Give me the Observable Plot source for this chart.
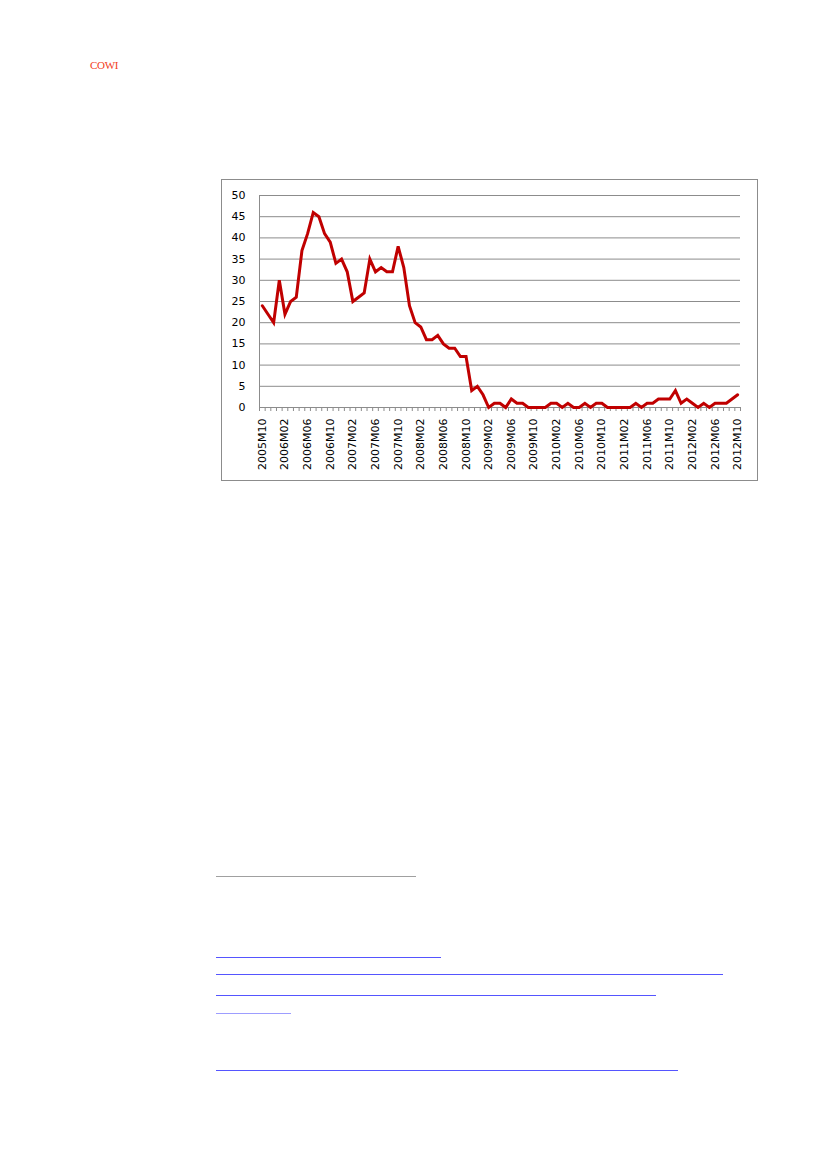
<!DOCTYPE html>
<html>
<head>
<meta charset="utf-8">
<script src="https://cdn.jsdelivr.net/npm/d3@7"></script>
<script src="https://cdn.jsdelivr.net/npm/@observablehq/plot@0.6"></script>
<style>
  html, body { margin: 0; padding: 0; background: #fff; }
  body { width: 827px; height: 1169px; position: relative; font-family: "DejaVu Sans", sans-serif; }
  #logo { position: absolute; left: 90px; top: 59px; font-family: "Liberation Serif", serif; font-size: 11px; color: #f23c1a; letter-spacing: -0.3px; }
  #chart { position: absolute; left: 221px; top: 179px; }
  #chart svg { border: 1px solid #8c8c8c; display: block; }
  .rule { position: absolute; height: 1px; }
</style>
</head>
<body>
<div id="logo">COWI</div>
<div id="chart"></div>
<div class="rule" style="left:216px;top:876px;width:200px;background:#a0a0a0;height:1.3px"></div>
<div class="rule" style="left:216px;top:957px;width:225px;background:#5555ff"></div>
<div class="rule" style="left:216px;top:974px;width:507px;background:#5555ff"></div>
<div class="rule" style="left:216px;top:995px;width:440px;background:#5555ff"></div>
<div class="rule" style="left:216px;top:1013px;width:75px;background:#9d9dff"></div>
<div class="rule" style="left:216px;top:1070px;width:462px;background:#5555ff"></div>
<script>
// Series: monthly values, 2005M10 .. 2012M10
const startYear = 2005, startMonth = 10;
const values = [
  24, 22, 20,                                   // 2005 M10-M12
  30, 22, 25, 26, 37, 41, 46, 45, 41, 39, 34, 35, // 2006
  32, 25, 26, 27, 35, 32, 33, 32, 32, 38, 33, 24, // 2007
  20, 19, 16, 16, 17, 15, 14, 14, 12, 12, 4, 5,   // 2008
  3, 0, 1, 1, 0, 2, 1, 1, 0, 0, 0, 0,             // 2009
  1, 1, 0, 1, 0, 0, 1, 0, 1, 1, 0, 0,             // 2010
  0, 0, 0, 1, 0, 1, 1, 2, 2, 2, 4, 1,             // 2011
  2, 1, 0, 1, 0, 1, 1, 1, 2, 3                    // 2012 M01-M10
];
const months = values.map((_, i) => {
  const m = startMonth - 1 + i;
  const y = startYear + Math.floor(m / 12);
  return `${y}M${String((m % 12) + 1).padStart(2, "0")}`;
});
const tickLabels = [
  "2005M10","2006M02","2006M06","2006M10","2007M02","2007M06","2007M10",
  "2008M02","2008M06","2008M10","2009M02","2009M06","2009M10","2010M02",
  "2010M06","2010M10","2011M02","2011M06","2011M10","2012M02","2012M06","2012M10"
];
const yTicks = [0, 5, 10, 15, 20, 25, 30, 35, 40, 45, 50];

const data = values.map((v, i) => ({i, month: months[i], value: v}));
const labelIdx = tickLabels.map(l => months.indexOf(l));
const boundaries = d3.range(months.length + 1).map(k => k - 0.5);

const chart = Plot.plot({
  width: 535,
  height: 300,
  marginLeft: 37,
  marginRight: 17,
  marginTop: 15,
  marginBottom: 73,
  style: {fontFamily: "DejaVu Sans, sans-serif", fontSize: "11px", color: "#000", background: "#fff"},
  x: {type: "linear", domain: [-0.5, months.length - 0.5]},
  y: {domain: [0, 50]},
  marks: [
    Plot.gridY(yTicks, {stroke: "#8c8c8c", strokeOpacity: 1, strokeWidth: 1}),
    Plot.axisY(yTicks, {tickSize: 0, tickPadding: 14, label: null, fontSize: 11}),
    Plot.ruleX([-0.5], {stroke: "#8c8c8c", strokeWidth: 1}),
    Plot.axisX(boundaries, {tickSize: 4, tickFormat: () => "", stroke: "#8c8c8c", label: null}),
    Plot.axisX(labelIdx, {tickSize: 0, tickPadding: 11, tickRotate: -90, tickFormat: i => months[i], label: null, fontSize: 11}),
    Plot.line(data, {x: "i", y: "value", stroke: "#c00000", strokeWidth: 3, strokeLinejoin: "miter", strokeMiterlimit: 4})
  ]
});
document.getElementById("chart").appendChild(chart);
</script>
</body>
</html>
